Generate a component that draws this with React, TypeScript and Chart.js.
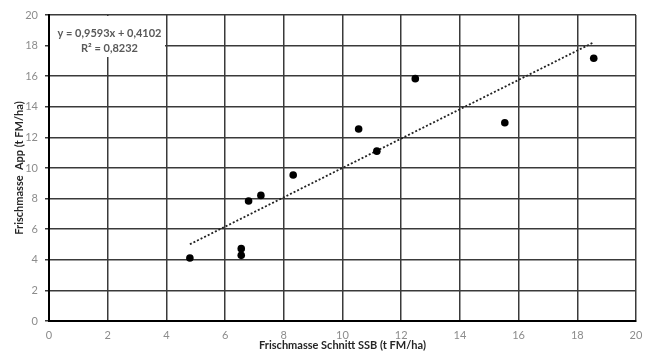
import React, { useEffect, useRef } from "react";
import { Chart, registerables } from "chart.js";

Chart.register(...registerables);

const xValues = [4.8, 6.55, 6.55, 6.8, 7.22, 8.32, 10.55, 11.17, 12.48, 15.53, 18.56];
const yValues = [4.12, 4.73, 4.29, 7.84, 8.21, 9.54, 12.55, 11.1, 15.84, 12.96, 17.17];
const slope = 0.9593;
const intercept = 0.4102;
const trendXs = [4.8, 18.56];
const equationLines = ["y = 0,9593x + 0,4102", "R² = 0,8232"];
const xTitle = "Frischmasse Schnitt SSB (t FM/ha)";
const yTitle = "Frischmasse  App (t FM/ha)";

const FONT = "Lato, 'Open Sans', sans-serif";

const equationBox = {
  id: "equationBox",
  afterDatasetsDraw(chart: any) {
    const { ctx, chartArea } = chart;
    const x0 = chartArea.left + 1;
    const y0 = chartArea.top + 1;
    const w = 115;
    const h = 41;
    ctx.save();
    ctx.fillStyle = "#ffffff";
    ctx.fillRect(x0, y0, w, h);
    ctx.fillStyle = "#595959";
    ctx.font = `bold 11px ${FONT}`;
    ctx.textAlign = "center";
    ctx.textBaseline = "middle";
    ctx.fillText(equationLines[0], x0 + w / 2 + 2, y0 + 17);
    ctx.fillText(equationLines[1], x0 + w / 2 + 2, y0 + 32);
    ctx.restore();
  },
};

export default function App() {
  const ref = useRef<HTMLCanvasElement | null>(null);
  useEffect(() => {
    document.body.style.margin = "0";
    const points = xValues.map((x, i) => ({ x, y: yValues[i] }));
    const trend = trendXs.map((x) => ({ x, y: slope * x + intercept }));
    const chart = new Chart(ref.current!, {
      type: "scatter",
      data: {
        datasets: [
          {
            type: "line",
            data: trend,
            borderColor: "#222",
            borderWidth: 1.8,
            borderDash: [2, 2],
            pointRadius: 0,
            fill: false,
            order: 2,
          } as any,
          {
            data: points,
            backgroundColor: "#000",
            borderColor: "#000",
            borderWidth: 0,
            pointRadius: 3.8,
            order: 1,
          },
        ],
      },
      options: {
        animation: false,
        responsive: false,
        maintainAspectRatio: false,
        layout: { padding: { top: 15, right: 12, left: 0, bottom: 0 } },
        plugins: { legend: { display: false }, tooltip: { enabled: false } },
        scales: {
          x: {
            type: "linear",
            min: 0,
            max: 20,
            afterFit: (s: any) => {
              s.height = 37;
            },
            ticks: {
              stepSize: 2,
              color: "#8c8c8c",
              font: { family: FONT, size: 11 },
              padding: 4,
            },
            grid: {
              color: "#3a3a3a",
              lineWidth: 1.5,
              tickLength: 4,
              tickColor: "transparent",
            },
            border: { color: "#000", width: 2 },
            title: {
              display: true,
              text: xTitle,
              color: "#262626",
              font: { family: FONT, size: 11, weight: "bold" },
              padding: { top: 0, bottom: 6 },
            },
          },
          y: {
            type: "linear",
            min: 0,
            max: 20,
            afterFit: (s: any) => {
              s.width = 49;
            },
            ticks: {
              stepSize: 2,
              color: "#8c8c8c",
              font: { family: FONT, size: 11 },
              padding: 7,
            },
            grid: {
              color: "#3a3a3a",
              lineWidth: 1.5,
              tickLength: 4,
              tickColor: "#3a3a3a",
            },
            border: { color: "#000", width: 2 },
            title: {
              display: true,
              text: yTitle,
              color: "#262626",
              font: { family: FONT, size: 11, weight: "bold" },
              padding: { top: 13, bottom: 0 },
            },
          },
        },
      },
      plugins: [equationBox],
    });
    return () => chart.destroy();
  }, []);
  return (
    <div style={{ width: 648, height: 358 }}>
      <canvas ref={ref} width={648} height={358} style={{ width: 648, height: 358 }} />
    </div>
  );
}
